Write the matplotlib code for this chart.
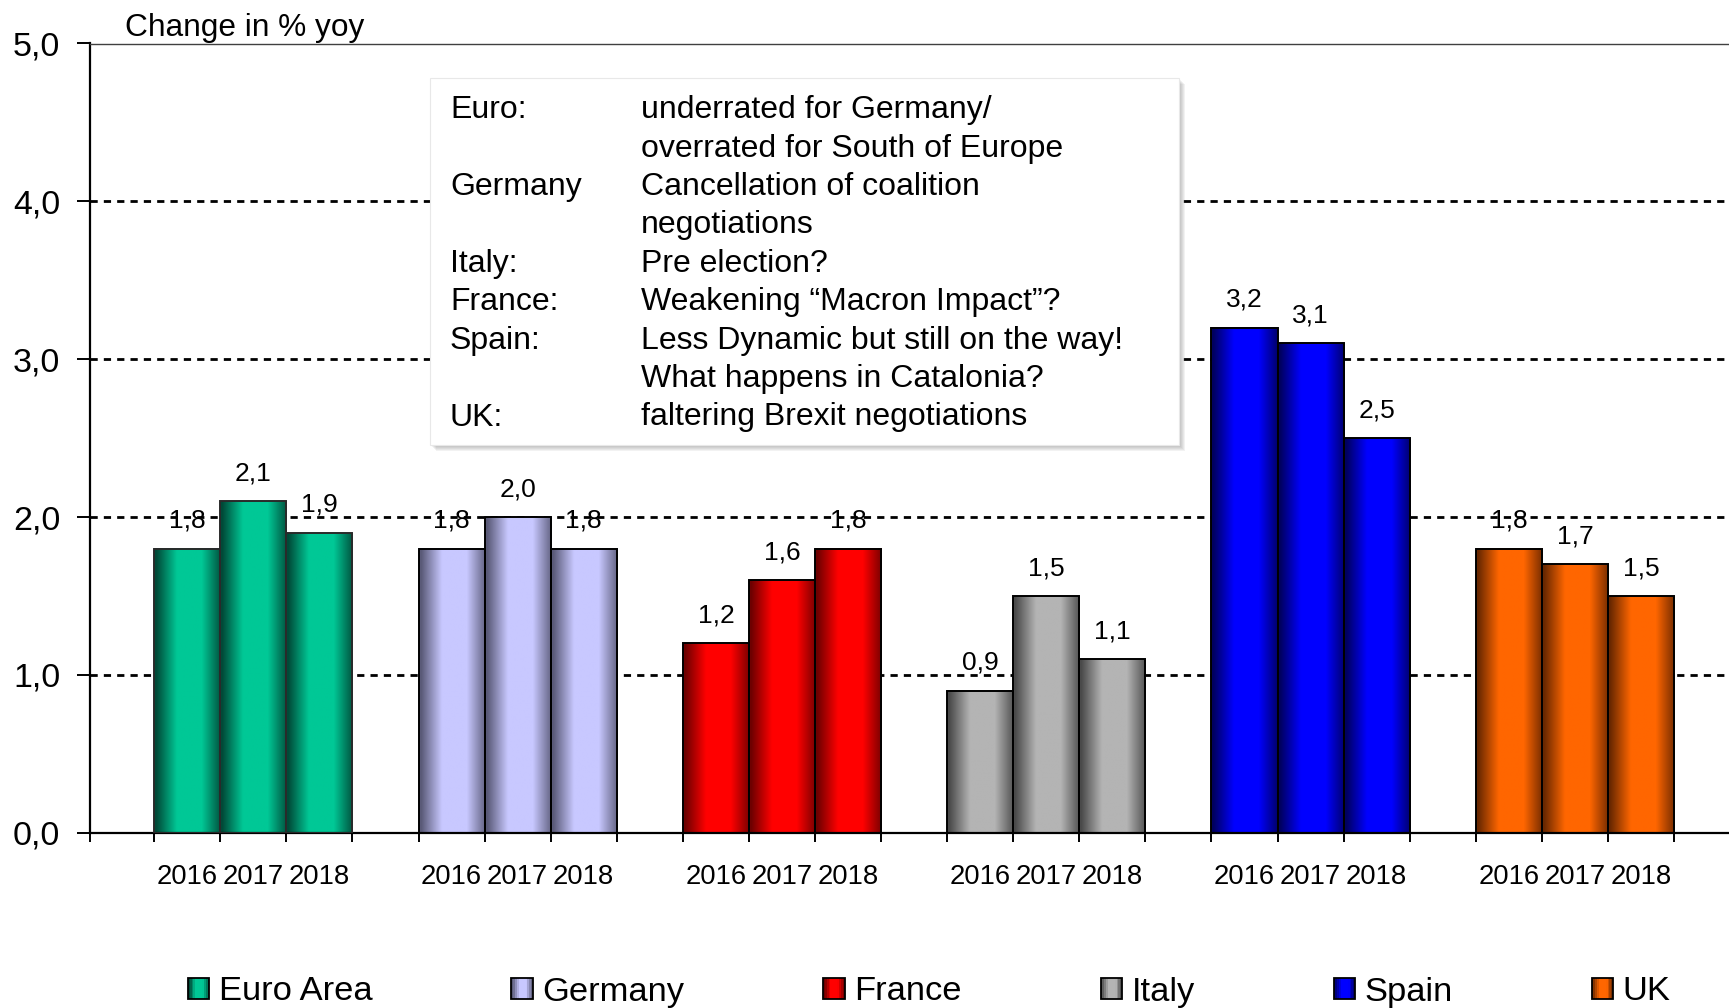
# -*- coding: utf-8 -*-
"""GDP growth 2016-2018 for the euro area and five countries, with comments box."""
import numpy as np
import matplotlib.pyplot as plt
from matplotlib.patches import Rectangle
from matplotlib.legend_handler import HandlerBase
from matplotlib.colors import to_rgb

plt.rcParams['font.family'] = ['Liberation Sans', 'DejaVu Sans']

# data
countries = ['Euro Area', 'Germany', 'France', 'Italy', 'Spain', 'UK']
years = ['2016', '2017', '2018']
euro_area = [1.8, 2.1, 1.9]
germany = [1.8, 2.0, 1.8]
france = [1.2, 1.6, 1.8]
italy = [0.9, 1.5, 1.1]
spain = [3.2, 3.1, 2.5]
uk = [1.8, 1.7, 1.5]
series = [euro_area, germany, france, italy, spain, uk]

light_colors = ['#00C896', '#C8C8FF', '#FF0000', '#B4B4B4', '#0000FF', '#FF6600']
dark_colors = ['#004A38', '#5A5A78', '#6E0000', '#4A4A4A', '#000060', '#6A2800']
edge_colors = ['#2A2A2A', 'black', 'black', 'black', 'black', 'black']

note_keys = ['Euro:', '', 'Germany', '', 'Italy:', 'France:', 'Spain:', '', 'UK:']
note_texts = ['underrated for Germany/', 'overrated for South of Europe',
              'Cancellation of coalition', 'negotiations', 'Pre election?',
              'Weakening \u201cMacron Impact\u201d?', 'Less Dynamic but still on the way!',
              'What happens in Catalonia?', 'faltering Brexit negotiations']

W, H = 1729, 1008
BAR_W = 0.25


def shade(light, dark, n=64):
    """horizontal 'cylinder' gradient: dark edges, bright middle"""
    light = np.array(to_rgb(light))
    dark = np.array(to_rgb(dark))
    t = np.linspace(0, 1, n)
    s = np.clip(1.6 * (1 - np.abs(2 * t - 1.06)), 0, 1)
    return dark + (light - dark) * s[:, None]


class GradientHandler(HandlerBase):
    def __init__(self, light, dark, edge):
        super().__init__()
        self.cols = shade(light, dark, 12)
        self.edge = edge

    def create_artists(self, legend, orig_handle, xdescent, ydescent,
                       width, height, fontsize, trans):
        n = len(self.cols)
        arts = [Rectangle((-xdescent + k * width / n, -ydescent), width / n, height,
                          facecolor=self.cols[k], edgecolor='none', transform=trans)
                for k in range(n)]
        arts.append(Rectangle((-xdescent, -ydescent), width, height, facecolor='none',
                              edgecolor=self.edge, lw=1.3, transform=trans))
        return arts


def fx(px):
    return px / W


def fy(py):
    return 1 - py / H


fig = plt.figure(figsize=(W / 100, H / 100), dpi=100)
ax = fig.add_axes([fx(90), fy(832.7), 1 - fx(90), fy(43.5) - fy(832.7)])

centers = []
for i, vals in enumerate(series):
    xs = i + (np.arange(len(vals)) - 1) * BAR_W
    grad = shade(light_colors[i], dark_colors[i])
    bars = ax.bar(xs, vals, BAR_W, facecolor='none', edgecolor=edge_colors[i],
                  lw=1.4, zorder=3)
    for b, v in zip(bars, vals):
        x0 = b.get_x()
        ax.imshow(grad[None], extent=(x0, x0 + BAR_W, 0, v), aspect='auto',
                  interpolation='bilinear', zorder=2)
        ax.annotate(f'{v:.1f}'.replace('.', ','), (x0 + BAR_W / 2, v),
                    xytext=(0, 15), textcoords='offset points',
                    ha='center', va='baseline', fontsize=19)
    centers.extend(xs)

xlim = (-0.618, 5.583)
ax.set_xlim(*xlim)
ax.set_ylim(0, 5)

# ticks at bar edges, year labels under bar centres
bar_edges = [xlim[0]]
for i in range(len(series)):
    bar_edges += list(i + np.array([-1.5, -0.5, 0.5, 1.5]) * BAR_W)
ax.set_xticks(bar_edges)
ax.set_xticklabels([])
ax.set_xticks(centers, minor=True)
ax.set_xticklabels(years * len(series), minor=True, fontsize=19.7)
ax.tick_params(axis='x', which='major', direction='out', length=6.5, width=1.4)
ax.tick_params(axis='x', which='minor', length=0, pad=22.5)

yt = np.arange(0, 6, 1)
ax.set_yticks(yt)
ax.set_yticklabels([f'{v:.1f}'.replace('.', ',') for v in yt], fontsize=24.5)
ax.tick_params(axis='y', direction='out', length=9.4, width=1.4, pad=12)

ax.set_axisbelow(True)
ax.yaxis.grid(True, color='black', lw=2.0, linestyle=(0, (2.6, 2.2)))
ax.xaxis.grid(False)
ax.spines['right'].set_visible(False)
ax.spines['left'].set_linewidth(1.6)
ax.spines['bottom'].set_linewidth(1.6)
ax.spines['top'].set_linewidth(1.0)
ax.spines['top'].set_color('#404040')

fig.text(fx(124.6), fy(36), 'Change in % yoy', fontsize=22.8, va='baseline')

# comment box with soft shadow
bx0, by0, bx1, by1 = 430, 78, 1179, 445
for k in range(1, 7):
    fig.patches.append(Rectangle((fx(bx0 + k), fy(by1 + k)), fx(bx1 - bx0), fy(by0) - fy(by1),
                                 transform=fig.transFigure, facecolor='#808080',
                                 edgecolor='none', alpha=0.10, zorder=5))
fig.patches.append(Rectangle((fx(bx0), fy(by1)), fx(bx1 - bx0), fy(by0) - fy(by1),
                             transform=fig.transFigure, facecolor='white',
                             edgecolor='#E8E8E8', lw=0.8, zorder=6))
for k, (key, note) in enumerate(zip(note_keys, note_texts)):
    base = 118.3 + 38.4 * k
    if key:
        fig.text(fx(450), fy(base), key, fontsize=23, va='baseline', zorder=7)
    fig.text(fx(641), fy(base), note, fontsize=23, va='baseline', zorder=7)

# legend with gradient swatches
handles = [Rectangle((0, 0), 1, 1) for _ in countries]
hmap = {h: GradientHandler(light_colors[i], dark_colors[i], 'black')
        for i, h in enumerate(handles)}
fig.legend(handles, countries, handler_map=hmap, loc='center left',
           bbox_to_anchor=(fx(188), fy(992)), ncol=6, frameon=False, fontsize=24.8,
           handlelength=0.62, handleheight=0.59, handletextpad=0.28,
           columnspacing=4.03, borderpad=0, borderaxespad=0)

fig.savefig('out.png', dpi=100)
